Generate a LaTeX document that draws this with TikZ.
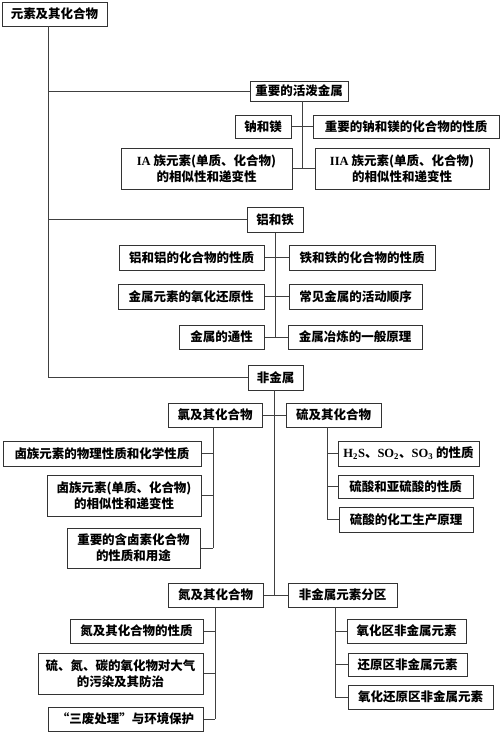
\documentclass[tikz,border=0pt]{standalone}
\usepackage{fontspec}
\setmainfont{Noto Sans CJK SC}
\newfontfamily\latinserif{Liberation Serif}
\usepackage{tikz}

\tikzset{
	box/.style={draw=black!80, line width=1pt, fill=white, inner sep=0pt, align=center, font=\bfseries\fontsize{12.5}{16}\selectfont},
	link/.style={draw=black!75, line width=1pt}
}

\begin{document}
\begin{tikzpicture}[x=1pt, y=-1pt]
			\useasboundingbox [fill=white] (0,0) rectangle (500,732);

			\newcommand{\drawBox}[6]
			{
				\node [box, minimum width={(#4-#2)*1pt}, minimum height={(#5-#3)*1pt}] (#1) at ({(#2+#4)/2},{(#3+#5)/2}) {#6}
			}

			\begin{scope}
				\drawBox{root}{2}{2}{107}{26}{元素及其化合物};
				\drawBox{active}{250}{81}{348}{101}{重要的活泼金属};
				\drawBox{naMg}{235}{115}{291}{138}{钠和镁};
				\drawBox{naMgComp}{313}{115}{499}{138}{重要的钠和镁的化合物的性质};
				\drawBox{groupIA}{121}{148}{292}{189}{{\latinserif IA} 族元素(单质、化合物)\\的相似性和递变性};
				\drawBox{groupIIA}{315}{148}{489}{189}{{\latinserif IIA} 族元素(单质、化合物)\\的相似性和递变性};
			\end{scope}

			\begin{scope}
				\drawBox{alFe}{247}{207}{303}{232}{铝和铁};
				\drawBox{alComp}{119}{245}{264}{270}{铝和铝的化合物的性质};
				\drawBox{feComp}{289}{245}{435}{270}{铁和铁的化合物的性质};
				\drawBox{redox}{118}{284}{264}{309}{金属元素的氧化还原性};
				\drawBox{activity}{289}{284}{422}{309}{常见金属的活动顺序};
				\drawBox{common}{179}{325}{264}{349}{金属的通性};
				\drawBox{smelt}{288}{325}{422}{349}{金属冶炼的一般原理};
			\end{scope}

			\begin{scope}
				\drawBox{nonmetal}{248}{365}{303}{390}{非金属};
				\drawBox{chlorine}{168}{403}{262}{427}{氯及其化合物};
				\drawBox{sulfur}{286}{403}{381}{427}{硫及其化合物};
				\drawBox{haloProp}{3}{441}{201}{466}{卤族元素的物理性质和化学性质};
				\drawBox{haloTrend}{47}{475}{201}{516}{卤族元素(单质、化合物)\\的相似性和递变性};
				\drawBox{haloUse}{67}{528}{200}{568}{重要的含卤素化合物\\的性质和用途};
				\drawBox{sulfOx}{338}{441}{479}{466}{{\latinserif H\textsubscript{2}S}、{\latinserif SO\textsubscript{2}}、{\latinserif SO\textsubscript{3}} 的性质};
				\drawBox{sulfAcid}{338}{475}{473}{498}{硫酸和亚硫酸的性质};
				\drawBox{sulfProd}{339}{507}{473}{532}{硫酸的化工生产原理};
			\end{scope}

			\begin{scope}
				\drawBox{nitrogen}{168}{583}{263}{607}{氮及其化合物};
				\drawBox{zone}{288}{583}{397}{607}{非金属元素分区};
				\drawBox{nitroProp}{70}{619}{203}{643}{氮及其化合物的性质};
				\drawBox{pollution}{38}{653}{203}{694}{硫、氮、碳的氧化物对大气\\的污染及其防治};
				\drawBox{threeWaste}{48}{707}{203}{731}{“三废处理”与环境保护};
				\drawBox{oxZone}{347}{619}{466}{643}{氧化区非金属元素};
				\drawBox{redZone}{348}{653}{467}{676}{还原区非金属元素};
				\drawBox{redoxZone}{348}{685}{493}{709}{氧化还原区非金属元素};
			\end{scope}

			\coordinate (trunk) at (48,26);
			\coordinate (activeStem) at (302,101);
			\coordinate (nonmetalStem) at (274,390);
			\coordinate (chlorineStem) at (213,427);
			\coordinate (sulfurStem) at (327,427);
			\coordinate (nitrogenStem) at (215,607);
			\coordinate (zoneStem) at (335,607);

			\begin{scope}[link]
				\draw (trunk) -- (trunk |- nonmetal.west) -- (nonmetal.west);
				\draw (trunk |- active.west) -- (active.west);
				\draw (trunk |- alFe.west) -- (alFe.west);

				\draw (activeStem) -- (activeStem |- groupIA.east);
				\draw (naMg.east) -- (naMgComp.west);
				\draw (groupIA.east) -- (groupIIA.west);

				\draw (alFe.south) -- (alFe.south |- common.east);
				\draw (alComp.east) -- (feComp.west);
				\draw (redox.east) -- (activity.west);
				\draw (common.east) -- (smelt.west);

				\draw (nonmetalStem) -- (nonmetalStem |- nitrogen.east);
				\draw (chlorine.east) -- (sulfur.west);
				\draw (nitrogen.east) -- (zone.west);

				\draw (chlorineStem) -- (chlorineStem |- haloUse.east);
				\foreach \n in {haloProp, haloTrend, haloUse}
					\draw (chlorineStem |- \n.east) -- (\n.east);

				\draw (sulfurStem) -- (sulfurStem |- sulfProd.west);
				\foreach \n in {sulfOx, sulfAcid, sulfProd}
					\draw (sulfurStem |- \n.west) -- (\n.west);

				\draw (nitrogenStem) -- (nitrogenStem |- threeWaste.east);
				\foreach \n in {nitroProp, pollution, threeWaste}
					\draw (nitrogenStem |- \n.east) -- (\n.east);

				\draw (zoneStem) -- (zoneStem |- redoxZone.west);
				\foreach \n in {oxZone, redZone, redoxZone}
					\draw (zoneStem |- \n.west) -- (\n.west);
			\end{scope}
		\end{tikzpicture}
\end{document}
